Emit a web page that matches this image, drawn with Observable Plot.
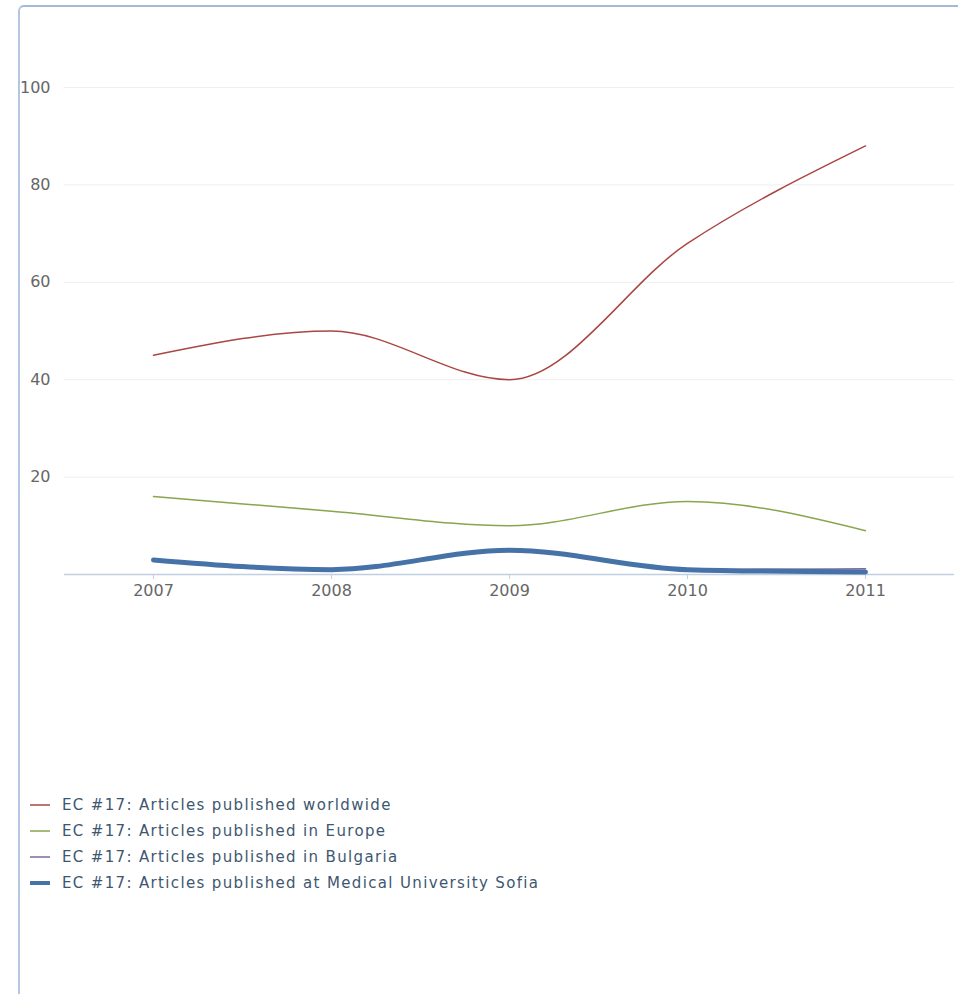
<!DOCTYPE html>
<html>
<head>
<meta charset="utf-8">
<script src="https://cdn.jsdelivr.net/npm/d3@7"></script>
<script src="https://cdn.jsdelivr.net/npm/@observablehq/plot@0.6"></script>
<style>
  html, body { margin: 0; padding: 0; background: #fff; }
  #wrap { position: relative; width: 962px; height: 994px; overflow: hidden; font-family: "DejaVu Sans", sans-serif; }
  #frame { position: absolute; left: 18px; top: 5px; width: 938px; height: 1000px;
           border-top: 2px solid #A2B9D7; border-left: 2px solid #B4C7E2; border-top-left-radius: 6px; }
  #chart { position: absolute; left: 0; top: 0; }
  #legend { position: absolute; left: 30px; top: 792px; }
  .item { display: flex; align-items: center; height: 26px; font-size: 15px; letter-spacing: 1.35px; color: #3E576F; }
  .item svg { margin-right: 12px; }
</style>
</head>
<body>
<div id="wrap">
  <div id="frame"></div>
  <div id="chart"></div>
  <div id="legend"></div>
</div>
<script>
const years = [2007, 2008, 2009, 2010, 2011];
const seriesNames = [
  "EC #17: Articles published worldwide",
  "EC #17: Articles published in Europe",
  "EC #17: Articles published in Bulgaria",
  "EC #17: Articles published at Medical University Sofia"
];
const worldwide = [45, 50, 40, 68, 88];
const europe = [16, 13, 10, 15, 9];
const bulgaria = [3, 1, 5, 1, 1.2];
const sofia = [3, 1, 5, 1, 0.5];
const seriesColors = ["#AA4643", "#89A54E", "#80699B", "#4572A7"];
const seriesWidths = [1.5, 1.5, 1.5, 5];
const yTicks = [20, 40, 60, 80, 100];

const allValues = [worldwide, europe, bulgaria, sofia];
const rows = allValues.map((vals, s) => years.map((yr, i) => ({year: yr, value: vals[i], series: seriesNames[s]})));

const chart = Plot.plot({
  width: 962,
  height: 640,
  marginLeft: 64,
  marginRight: 8,
  marginTop: 87,
  marginBottom: 66,
  style: { fontFamily: "DejaVu Sans, sans-serif", fontSize: "16px", color: "#666", background: "transparent" },
  x: { domain: [2006.5, 2011.5] },
  y: { domain: [0, 100] },
  marks: [
    Plot.gridY(yTicks, { stroke: "#EEEEEE", strokeOpacity: 1 }),
    Plot.ruleY([0], { stroke: "#C0D0E0", strokeWidth: 1.5 }),
    Plot.axisX(years, { tickFormat: d => String(d), tickSize: 5, tickPadding: 5, stroke: "#C0D0E0", fontSize: 16, label: null }),
    Plot.axisY(yTicks, { tickSize: 0, tickPadding: 14, fontSize: 16, label: null }),
    ...rows.map((r, s) => Plot.line(r, {
      x: "year", y: "value", stroke: seriesColors[s], strokeWidth: seriesWidths[s], curve: "monotone-x"
    }))
  ]
});
document.getElementById("chart").appendChild(chart);

const legend = document.getElementById("legend");
seriesNames.forEach((name, s) => {
  const item = document.createElement("div");
  item.className = "item";
  item.innerHTML = `<svg width="20" height="10"><line x1="0" x2="20" y1="5" y2="5" stroke="${seriesColors[s]}" stroke-width="${s === 3 ? 4 : 1.5}"/></svg><span></span>`;
  item.querySelector("span").textContent = name;
  legend.appendChild(item);
});
</script>
</body>
</html>
